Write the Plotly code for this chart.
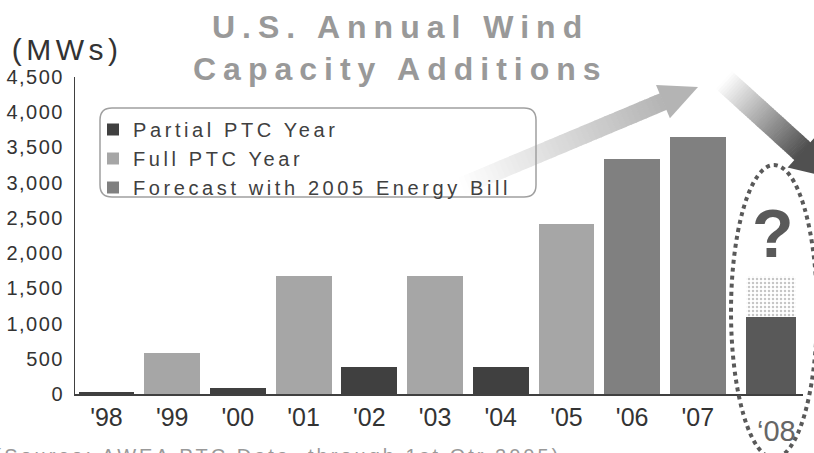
import math
import plotly.graph_objects as go

# ---- data -------------------------------------------------------------
years = ["'98", "'99", "'00", "'01", "'02", "'03", "'04", "'05", "'06", "'07"]
mw_added = [25, 580, 85, 1680, 390, 1680, 390, 2420, 3340, 3650]
ptc_status = ["Partial", "Full", "Partial", "Full", "Partial", "Full",
              "Partial", "Full", "Forecast", "Forecast"]
label_08 = "\u201808"
mw_08_base = 1090
mw_08_upside = 580
y_ticks = [0, 500, 1000, 1500, 2000, 2500, 3000, 3500, 4000, 4500]

series_names = {
    "Partial": "Partial PTC Year",
    "Full": "Full PTC Year",
    "Forecast": "Forecast with 2005 Energy Bill",
}
series_colors = {"Partial": "#404040", "Full": "#a6a6a6", "Forecast": "#808080"}

# ---- geometry helpers (figure pixels -> paper coords) -------------------
W, H = 814, 453
ML, MR, MT, MB = 75, 11, 77, 59
PW, PH = W - ML - MR, H - MT - MB


def px(x):
    return (x - ML) / PW


def py(y):
    return (H - MB - y) / PH


FONT = "Liberation Sans, Arial, sans-serif"
NARROW = "Liberation Sans Narrow, Arial Narrow, Liberation Sans, sans-serif"

fig = go.Figure()

for key in ["Partial", "Full", "Forecast"]:
    xs = [i for i, s in enumerate(ptc_status) if s == key]
    ys = [mw_added[i] for i in xs]
    fig.add_trace(go.Bar(
        x=xs, y=ys, width=0.85, name=series_names[key],
        marker=dict(color=series_colors[key], line=dict(width=0)),
    ))

x08 = len(years) + 0.11
fig.add_trace(go.Bar(
    x=[x08], y=[mw_08_base], width=0.76, showlegend=False,
    marker=dict(color="#595959", line=dict(width=0)),
))
fig.add_trace(go.Bar(
    x=[x08], y=[mw_08_upside], width=0.76, showlegend=False,
    marker=dict(color="white", line=dict(width=0),
                pattern=dict(shape=".", fgcolor="#8c8c8c", bgcolor="#ffffff",
                             size=4, solidity=0.3)),
))

shapes = []


def gradient_arrow(tail, tip, shaft_hw, head_len, head_hw, c0, c1, n=40):
    """Arrow built from thin strips whose grey shade ramps from c0 to c1."""
    dx, dy = tip[0] - tail[0], tip[1] - tail[1]
    length = math.hypot(dx, dy)
    ux, uy = dx / length, dy / length
    nx, ny = -uy, ux
    shaft_len = length - head_len

    def mix(t):
        return "rgb(%d,%d,%d)" % tuple(round(a + (b - a) * t) for a, b in zip(c0, c1))

    for k in range(n):
        s0 = shaft_len * k / n
        s1 = shaft_len * (k + 1) / n + 0.6
        pts = [
            (tail[0] + ux * s0 + nx * shaft_hw, tail[1] + uy * s0 + ny * shaft_hw),
            (tail[0] + ux * s1 + nx * shaft_hw, tail[1] + uy * s1 + ny * shaft_hw),
            (tail[0] + ux * s1 - nx * shaft_hw, tail[1] + uy * s1 - ny * shaft_hw),
            (tail[0] + ux * s0 - nx * shaft_hw, tail[1] + uy * s0 - ny * shaft_hw),
        ]
        path = "M" + " L".join("%.5f,%.5f" % (px(a), py(b)) for a, b in pts) + " Z"
        shapes.append(dict(type="path", xref="paper", yref="paper", path=path,
                           fillcolor=mix((k + 0.5) / n), line=dict(width=0),
                           layer="below"))
    bx, by = tail[0] + ux * shaft_len, tail[1] + uy * shaft_len
    pts = [(bx + nx * head_hw, by + ny * head_hw), tip, (bx - nx * head_hw, by - ny * head_hw)]
    path = "M" + " L".join("%.5f,%.5f" % (px(a), py(b)) for a, b in pts) + " Z"
    shapes.append(dict(type="path", xref="paper", yref="paper", path=path,
                       fillcolor=mix(1.0), line=dict(width=0), layer="below"))


gradient_arrow((462, 186), (698, 87), 9, 38, 18, (255, 255, 255), (180, 180, 180))
gradient_arrow((724, 80), (832, 178), 12, 40, 22, (255, 255, 255), (80, 80, 80))

# rounded frame around the legend
x0, x1, y0, y1, r = 100, 536, 108, 197, 12
frame = (
    f"M{px(x0 + r)},{py(y0)} L{px(x1 - r)},{py(y0)} Q{px(x1)},{py(y0)} {px(x1)},{py(y0 + r)} "
    f"L{px(x1)},{py(y1 - r)} Q{px(x1)},{py(y1)} {px(x1 - r)},{py(y1)} "
    f"L{px(x0 + r)},{py(y1)} Q{px(x0)},{py(y1)} {px(x0)},{py(y1 - r)} "
    f"L{px(x0)},{py(y0 + r)} Q{px(x0)},{py(y0)} {px(x0 + r)},{py(y0)} Z"
)
shapes.append(dict(type="path", xref="paper", yref="paper", path=frame,
                   line=dict(color="#a0a0a0", width=1.5), fillcolor="rgba(0,0,0,0)"))

# dotted ellipse around the 2008 column
shapes.append(dict(type="circle", xref="paper", yref="paper",
                   x0=px(731), x1=px(817), y0=py(458), y1=py(165),
                   line=dict(color="#595959", width=4, dash="dot")))

annotations = [
    dict(text="U.S. Annual Wind", x=px(400), y=py(27), font=dict(size=32, color="#999999", family=FONT, weight="bold")),
    dict(text="Capacity Additions", x=px(400), y=py(69), font=dict(size=32, color="#999999", family=FONT, weight="bold")),
    dict(text="(MWs)", x=px(67), y=py(49), font=dict(size=30, color="#333333", family=FONT)),
    dict(text="?", x=px(773), y=py(233), font=dict(size=68, color="#595959", family=FONT, weight="bold")),
    dict(text=label_08, x=px(776), y=py(431), font=dict(size=29, color="#666666", family=NARROW)),
    dict(text="(Source: AWEA PTC Data, through 1st Qtr 2005)", x=px(60), y=py(456), xanchor="left",
         font=dict(size=20, color="#999999", family=FONT)),
]
spacing = {0: 7, 1: 7, 2: 4.5, 3: 0, 4: 0, 5: 3}
for a in annotations:
    a.setdefault("xanchor", "center")
    a.update(xref="paper", yref="paper", yanchor="middle", showarrow=False)

fig.update_layout(
    width=W, height=H,
    margin=dict(l=ML, r=MR, t=MT, b=MB),
    paper_bgcolor="white", plot_bgcolor="white",
    barmode="stack", bargap=0.15,
    showlegend=True,
    legend=dict(x=px(93), y=py(110), xanchor="left", yanchor="top",
                traceorder="normal",
                bgcolor="rgba(0,0,0,0)", borderwidth=0,
                font=dict(size=20, color="#404040", family=FONT),
                itemwidth=30, tracegroupgap=0),
    shapes=shapes,
    annotations=annotations,
    xaxis=dict(range=[-0.479, 10.6], tickmode="array",
               tickvals=list(range(len(years))), ticktext=years,
               showgrid=False, zeroline=False, showline=True,
               linecolor="#404040", linewidth=1.5, ticks="",
               tickfont=dict(size=25, color="#333333", family=NARROW)),
    yaxis=dict(range=[0, 4500], tickmode="array", tickvals=y_ticks,
               tickformat=",", showgrid=False, zeroline=False, showline=True,
               linecolor="#404040", linewidth=1, ticks="",
               ticklabelstandoff=6,
               tickfont=dict(size=20, color="#333333", family=FONT)),
)

spacing_js = ",".join("%d:%s" % (k, v) for k, v in spacing.items())
post_script = """
var gd = document.getElementById('{plot_id}');
var annSp = {%s};
function applySpacing(){
  gd.querySelectorAll('.ytick text').forEach(function(t){ t.style.letterSpacing = '1.5px'; });
  gd.querySelectorAll('.legendtext').forEach(function(t){ t.style.letterSpacing = '3.6px'; });
  gd.querySelectorAll('.legend .scrollbox').forEach(function(g){ g.removeAttribute('clip-path'); });
  gd.querySelectorAll('.legend').forEach(function(g){ g.removeAttribute('clip-path'); });
  Object.keys(annSp).forEach(function(i){
    gd.querySelectorAll('.annotation[data-index="' + i + '"] text').forEach(function(t){
      t.style.letterSpacing = annSp[i] + 'px';
    });
  });
}
applySpacing();
gd.on('plotly_afterplot', applySpacing);
""" % spacing_js

fig.write_html("out.html", post_script=post_script)
